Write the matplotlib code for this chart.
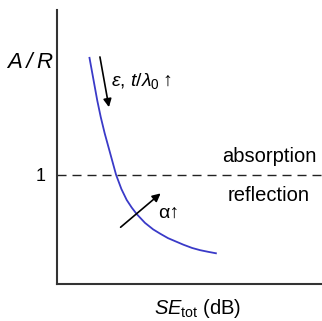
import matplotlib
matplotlib.use("Agg")
import matplotlib.pyplot as plt

plt.rcParams['font.family'] = ['Liberation Sans', 'DejaVu Sans']
plt.rcParams['mathtext.fontset'] = 'custom'
plt.rcParams['mathtext.rm'] = 'Liberation Sans'
plt.rcParams['mathtext.it'] = 'Liberation Sans:italic'
plt.rcParams['mathtext.bf'] = 'Liberation Sans:bold'

# Shielding trend curve: A/R ratio against total shielding effectiveness
se_tot = [1.22, 1.31, 1.40, 1.52, 1.65, 1.80, 1.97, 2.10, 2.23, 2.43,
          2.63, 2.82, 3.01, 3.32, 3.63, 3.90, 4.19, 4.48, 4.77, 5.10,
          5.40, 5.70, 6.03]
a_over_r = [2.08, 1.96, 1.84, 1.68, 1.53, 1.38, 1.23, 1.115, 1.00, 0.87,
            0.77, 0.70, 0.64, 0.56, 0.50, 0.46, 0.42, 0.39, 0.36, 0.33,
            0.31, 0.295, 0.28]

threshold = 1
ytick_vals = [1]
ytick_labels = ['1']

# Trend arrows (tail, head) in data units
arrow_eps = ((1.62, 2.08), (1.96, 1.62))
arrow_alpha = ((2.40, 0.52), (3.91, 0.83))

fig = plt.figure(figsize=(3.22, 3.21), dpi=100)
ax = fig.add_axes([57 / 322, 37 / 321, 265 / 322, 274 / 321])
ax.set_xlim(0, 10)
ax.set_ylim(0, 2.51)

ax.plot(se_tot, a_over_r, color='#3a3ac8', lw=1.3, solid_capstyle='butt',
        solid_joinstyle='round')
ax.axhline(threshold, color='#222222', lw=1.0, dashes=(6.5, 4.3))

for spine in ('top', 'right'):
    ax.spines[spine].set_visible(False)
for spine in ('left', 'bottom'):
    ax.spines[spine].set_color('#333333')
    ax.spines[spine].set_linewidth(1.5)

ax.set_xticks([])
ax.set_yticks(ytick_vals)
ax.set_yticklabels(ytick_labels, fontsize=13)
ax.tick_params(axis='y', length=0, pad=8)

arrow_kw = dict(arrowstyle='-|>', lw=1.2, color='black',
                mutation_scale=12, shrinkA=0, shrinkB=0)
ax.annotate('', xy=arrow_eps[1], xytext=arrow_eps[0], arrowprops=arrow_kw)
ax.annotate('', xy=arrow_alpha[1], xytext=arrow_alpha[0], arrowprops=arrow_kw)

ax.text(2.05, 1.81, r'$\varepsilon$, $t/\lambda_{\mathrm{0}}$' + '\u2009↑',
        fontsize=14, ha='left', va='baseline')
ax.text(3.81, 0.61, 'α↑', fontsize=14, ha='left', va='baseline')
ax.text(8.02, 1.12, 'absorption', fontsize=14.5, ha='center', va='baseline')
ax.text(7.98, 0.76, 'reflection', fontsize=14.5, ha='center', va='baseline')

ax.text(-0.015, 0.807, 'A\u2009/\u2009R', fontsize=16, fontstyle='italic',
        ha='right', va='center', transform=ax.transAxes)
fig.text(198 / 322, 1 - 308 / 321, r'$\mathit{SE}_{\mathrm{tot}}$ (dB)',
         fontsize=14.5, ha='center', va='center')

fig.savefig('out.png', dpi=100)
